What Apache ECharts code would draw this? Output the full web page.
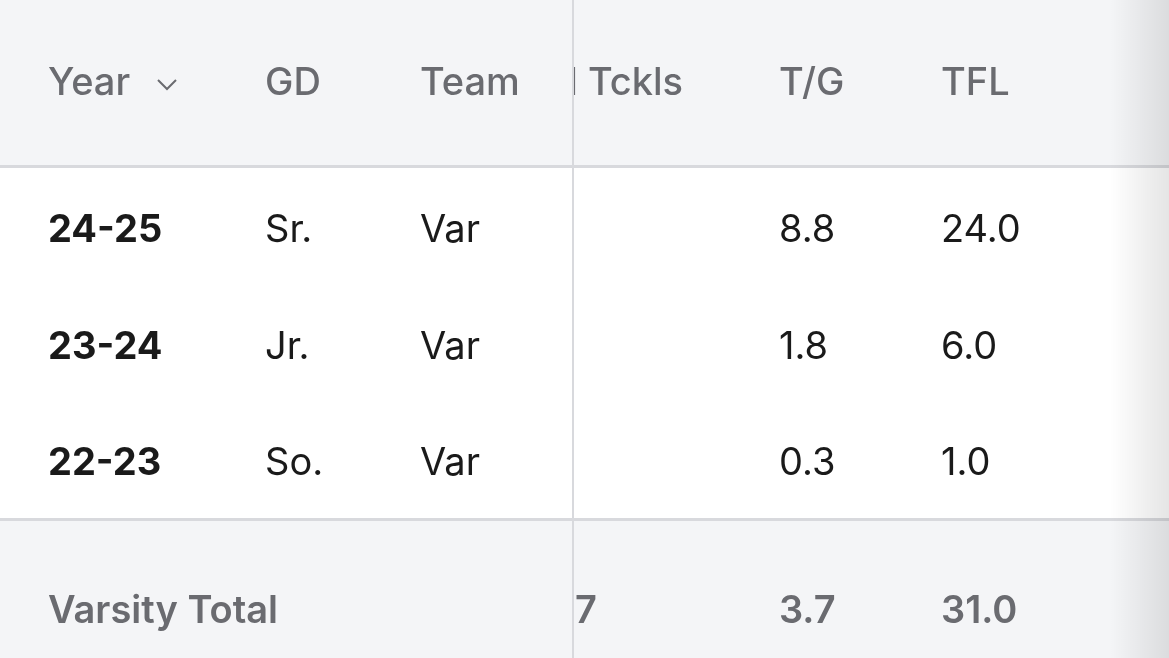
<!DOCTYPE html>
<html>
<head>
<meta charset="utf-8">
<script src="https://cdn.jsdelivr.net/npm/echarts@6/dist/echarts.min.js"></script>
<style>html,body{margin:0;padding:0;background:#fff}#chart{width:1169px;height:658px}</style>
</head>
<body>
<div id="chart"></div>
<script>
// table data
const headers = ['Year', 'GD', 'Team', 'Total Tckls', 'T/G', 'TFL'];
const years = ['24-25', '23-24', '22-23'];
const grades = ['Sr.', 'Jr.', 'So.'];
const teams = ['Var', 'Var', 'Var'];
const tackles = ['', '', ''];
const tacklesPerGame = ['8.8', '1.8', '0.3'];
const tfl = ['24.0', '6.0', '1.0'];
const totalRow = ['Varsity Total', '', '', '37', '3.7', '31.0'];

const chart = echarts.init(document.getElementById('chart'));
const font = 'Inter, "Noto Sans", sans-serif';
const grey = '#6a6b70';
const colX = [48, 265, 420, 683, 779, 941];
const headerY = 84, rowY = [231, 348, 464], totalY = 612;
const divX = 572;

function txt(s, x, y, o) {
  return { type: 'text', z: o.z || 10, style: { text: s, x: x, y: y, fill: o.color || '#1a1a1a', font: (o.weight || 'normal') + ' ' + (o.size || 38) + 'px ' + font, align: o.align || 'left', verticalAlign: 'middle' } };
}

const g = [];
// backgrounds
g.push({ type: 'rect', z: 1, shape: { x: 0, y: 0, width: 1169, height: 166 }, style: { fill: '#f4f5f7' } });
g.push({ type: 'rect', z: 1, shape: { x: 0, y: 520, width: 1169, height: 138 }, style: { fill: '#f4f5f7' } });
g.push({ type: 'rect', z: 2, shape: { x: 0, y: 165, width: 1169, height: 3 }, style: { fill: '#d8d9dd' } });
g.push({ type: 'rect', z: 2, shape: { x: 0, y: 518, width: 1169, height: 3 }, style: { fill: '#d8d9dd' } });

// scrolling columns (3..5)
const scrollCols = [tackles, tacklesPerGame, tfl];
[3, 4, 5].forEach(function (c, k) {
  const al = c === 3 ? 'right' : 'left';
  g.push(txt(headers[c], colX[c], headerY, { color: grey, weight: 500, align: al, z: 3 }));
  rowY.forEach(function (y, r) { g.push(txt(scrollCols[k][r], colX[c], y, { align: al, z: 3 })); });
  g.push(txt(totalRow[c], c === 3 ? 597 : colX[c], totalY, { color: grey, weight: 600, align: al, z: 3 }));
});

// sticky left panel covers scrolled content
g.push({ type: 'rect', z: 5, shape: { x: 0, y: 0, width: divX, height: 165 }, style: { fill: '#f4f5f7' } });
g.push({ type: 'rect', z: 5, shape: { x: 0, y: 168, width: divX, height: 350 }, style: { fill: '#fff' } });
g.push({ type: 'rect', z: 5, shape: { x: 0, y: 521, width: divX, height: 137 }, style: { fill: '#f4f5f7' } });
g.push({ type: 'rect', z: 6, shape: { x: 0, y: 165, width: divX, height: 3 }, style: { fill: '#d8d9dd' } });
g.push({ type: 'rect', z: 6, shape: { x: 0, y: 518, width: divX, height: 3 }, style: { fill: '#d8d9dd' } });
g.push({ type: 'rect', z: 6, shape: { x: divX, y: 0, width: 2, height: 658 }, style: { fill: '#d8d9dd' } });

const leftCols = [years, grades, teams];
[0, 1, 2].forEach(function (c) {
  g.push(txt(headers[c], colX[c], headerY, { color: grey, weight: 500 }));
  rowY.forEach(function (y, r) { g.push(txt(leftCols[c][r], colX[c], y, { weight: c === 0 ? 'bold' : 'normal' })); });
});
g.push(txt(totalRow[0], colX[0], totalY, { color: grey, weight: 600 }));
g.push({ type: 'polyline', z: 10, shape: { points: [[158, 80], [167, 89], [176, 80]] }, style: { stroke: grey, lineWidth: 2, fill: null } });

// right edge scroll shadow
g.push({ type: 'rect', z: 20, shape: { x: 1110, y: 0, width: 59, height: 658 }, style: { fill: new echarts.graphic.LinearGradient(0, 0, 1, 0, [{ offset: 0, color: 'rgba(0,0,0,0)' }, { offset: 1, color: 'rgba(0,0,0,0.10)' }]) } });

chart.setOption({ animation: false, graphic: g });
</script>
</body>
</html>
